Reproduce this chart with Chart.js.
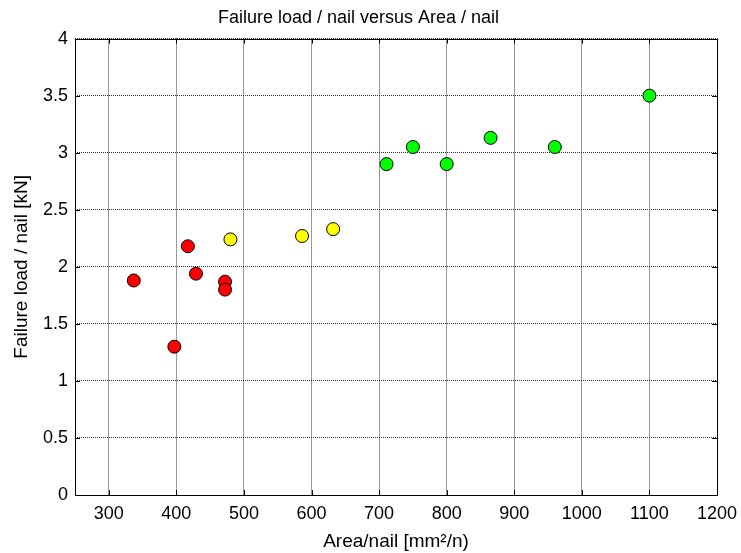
<!DOCTYPE html>
<html><head><meta charset="utf-8">
<script src="https://cdn.jsdelivr.net/npm/chart.js@4/dist/chart.umd.min.js"></script>
<style>html,body{margin:0;padding:0;background:#fff}#wrap{width:741px;height:553px}</style>
</head><body><div id="wrap"><canvas id="c" width="741" height="553"></canvas></div>
<script>
const redX = [337, 397, 417, 429, 472, 472];
const redY = [1.88, 1.30, 2.18, 1.94, 1.87, 1.80];
const yellowX = [480, 586, 632];
const yellowY = [2.24, 2.27, 2.33];
const greenX = [711, 750, 800, 865, 960, 1100];
const greenY = [2.90, 3.05, 2.90, 3.13, 3.05, 3.50];
const xTicks = [300, 400, 500, 600, 700, 800, 900, 1000, 1100, 1200];
const yTicks = [0, 0.5, 1, 1.5, 2, 2.5, 3, 3.5, 4];

const pts = (xs, ys) => xs.map((x, i) => ({x, y: ys[i]}));
const FONT = "'Liberation Sans', Arial, sans-serif";

const frame = {
  id: 'frame',
  afterDraw(chart) {
    const {ctx, chartArea: a, scales} = chart;
    ctx.save();
    ctx.strokeStyle = '#000';
    ctx.lineWidth = 1;
    ctx.strokeRect(Math.round(a.left) + 0.5, Math.round(a.top) + 0.5, Math.round(a.right - a.left), Math.round(a.bottom - a.top));
    ctx.beginPath();
    const L = 5;
    xTicks.forEach(v => {
      const px = Math.round(scales.x.getPixelForValue(v)) + 0.5;
      ctx.moveTo(px, a.bottom); ctx.lineTo(px, a.bottom - L);
      ctx.moveTo(px, a.top); ctx.lineTo(px, a.top + L);
    });
    yTicks.forEach(v => {
      const py = Math.round(scales.y.getPixelForValue(v)) + 0.5;
      ctx.moveTo(a.left, py); ctx.lineTo(a.left + L, py);
      ctx.moveTo(a.right, py); ctx.lineTo(a.right - L, py);
    });
    ctx.stroke();
    ctx.restore();
  }
};

new Chart(document.getElementById('c'), {
  type: 'scatter',
  data: {
    datasets: [
      {data: pts(redX, redY), backgroundColor: '#ff0000'},
      {data: pts(yellowX, yellowY), backgroundColor: '#ffff00'},
      {data: pts(greenX, greenY), backgroundColor: '#00ff00'}
    ]
  },
  options: {
    responsive: false,
    animation: false,
    layout: {padding: {left: 0, right: 24, top: 0, bottom: 0}},
    elements: {point: {radius: 6.5, borderColor: '#000', borderWidth: 1, hoverRadius: 6.5}},
    plugins: {
      legend: {display: false},
      tooltip: {enabled: false},
      title: {display: true, text: 'Failure load / nail versus Area / nail', color: '#000',
        font: {family: FONT, size: 18, weight: 'normal'}, padding: {top: 7, bottom: 10}}
    },
    scales: {
      x: {
        type: 'linear', min: 250, max: 1200,
        afterBuildTicks: s => { s.ticks = xTicks.map(v => ({value: v})); },
        afterFit: s => { s.height = 58; s.paddingLeft = 0; s.paddingRight = 0; },
        grid: {color: '#333', drawTicks: false, lineWidth: 1},
        border: {display: false, dash: [1, 1]},
        ticks: {color: '#000', padding: 8, maxRotation: 0, font: {family: FONT, size: 18}, callback: v => String(v)},
        title: {display: true, text: 'Area/nail [mm²/n)', color: '#000', font: {family: FONT, size: 19}, padding: {top: 2, bottom: 0}}
      },
      y: {
        type: 'linear', min: 0, max: 4,
        afterBuildTicks: s => { s.ticks = yTicks.map(v => ({value: v})); },
        afterFit: s => { s.width = 75; s.paddingTop = 0; s.paddingBottom = 0; },
        grid: {color: '#333', drawTicks: false, lineWidth: 1},
        border: {display: false, dash: [1, 1]},
        ticks: {color: '#000', padding: 7, font: {family: FONT, size: 18}, callback: v => String(v)},
        title: {display: true, text: 'Failure load / nail [kN]', color: '#000', font: {family: FONT, size: 19}, padding: {top: 10, bottom: 0}}
      }
    }
  },
  plugins: [frame]
});
</script>
</body></html>
